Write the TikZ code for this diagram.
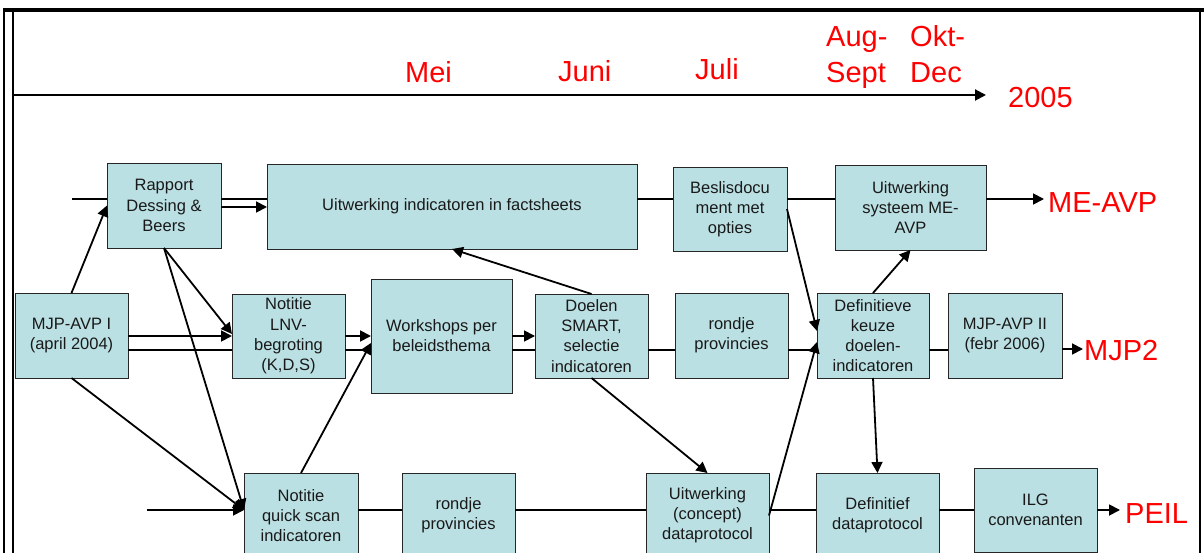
\documentclass[tikz,border=0pt]{standalone}
\usepackage{fontspec}
\setmainfont{Liberation Sans}
\usetikzlibrary{arrows.meta}
\definecolor{boxfill}{RGB}{187,224,227}
\definecolor{redlab}{RGB}{255,0,0}
\tikzset{
  box/.style={draw=black!85, line width=0.9pt, fill=boxfill, inner sep=0pt, outer sep=0pt,
    align=center, font=\fontsize{16.5}{20.2}\selectfont, text=black!90},
  conn/.style={line width=1.8pt, black},
  arr/.style={conn, -{Triangle[length=11pt,width=11pt]}},
  redtxt/.style={text=redlab, font=\fontsize{29}{33}\selectfont, inner sep=0pt, anchor=base west},
  frame/.style={line width=2pt, black}
}
\begin{document}
\begin{tikzpicture}[x=1pt,y=-1pt]
\useasboundingbox (0,0) rectangle (1204,553);
\clip (0,0) rectangle (1204,553);
% frame
\draw[line width=3.2pt] (3,10) -- (1204,10);
\draw[frame] (4,9) -- (4,560);
\draw[frame] (13,11) -- (13,560);
\draw[frame] (1200,10) -- (1200,560);
% timeline
\coordinate (tl0) at (13,95);
\coordinate (tl1) at (986,95);
\draw[arr, line width=2pt] (tl0) -- (tl1);
\node[redtxt] (mei) at (405,83) {Mei};
\node[redtxt] (juni) at (558,82) {Juni};
\node[redtxt] (juli) at (695,80) {Juli};
\node[redtxt] (aug) at (826,47) {Aug-};
\node[redtxt] (sept) at (826,83) {Sept};
\node[redtxt] (okt) at (910,47) {Okt-};
\node[redtxt] (dec) at (910,83) {Dec};
\node[redtxt] (yr) at (1008,108) {2005};
% helper rows
\coordinate (hA) at (0,199);
\coordinate (hA2) at (0,207);
\coordinate (hB) at (0,336);
\coordinate (hB2) at (0,350);
\coordinate (hC) at (0,510);
% boxes
\node[box, minimum width=114pt, minimum height=85pt] (rap) at (164,205.5) {Rapport\\Dessing \&\\Beers};
\node[box, minimum width=370pt, minimum height=85pt] (fact) at (452,206.5) {Uitwerking indicatoren in factsheets};
\node[box, minimum width=114pt, minimum height=84pt] (besl) at (730,209) {Beslisdocu\\ment met\\opties};
\node[box, minimum width=151pt, minimum height=85pt] (sys) at (910.5,207.5) {Uitwerking\\systeem ME-\\AVP};
\node[box, minimum width=113pt, minimum height=85pt] (mjp) at (71.5,335.5) {MJP-AVP I\\(april 2004)};
\node[box, minimum width=113pt, minimum height=84pt] (lnv) at (288.5,336) {Notitie\\LNV-\\begroting\\(K,D,S)};
\node[box, minimum width=141pt, minimum height=114pt] (ws) at (441.5,336) {Workshops per\\beleidsthema};
\node[box, minimum width=113pt, minimum height=84pt] (doel) at (591.5,336) {Doelen\\SMART,\\selectie\\indicatoren};
\node[box, minimum width=113pt, minimum height=85pt] (rond1) at (731.5,335.5) {rondje\\provincies};
\node[box, minimum width=112pt, minimum height=85pt] (defk) at (873,335.5) {Definitieve\\keuze\\doelen-\\indicatoren};
\node[box, minimum width=114pt, minimum height=85pt] (mjp2) at (1005,335.5) {MJP-AVP II\\(febr 2006)};
\node[box, minimum width=114pt, minimum height=85pt] (qs) at (301,515.5) {Notitie\\quick scan\\indicatoren};
\node[box, minimum width=113pt, minimum height=85pt] (rond2) at (458.5,515.5) {rondje\\provincies};
\node[box, minimum width=123pt, minimum height=85pt] (conc) at (707.5,515.5) {Uitwerking\\(concept)\\dataprotocol};
\node[box, minimum width=123pt, minimum height=85pt] (deff) at (877.5,515.5) {Definitief\\dataprotocol};
\node[box, minimum width=123pt, minimum height=84pt] (ilg) at (1035.5,510) {ILG\\convenanten};
% end labels
\node[redtxt] (meavp) at (1048,213) {ME-AVP};
\node[redtxt] (mjp2lab) at (1084,360) {MJP2};
\node[redtxt] (peil) at (1125,523) {PEIL};
\coordinate (topstart) at (72,199);
\coordinate (botstart) at (147,510);
\coordinate (meend) at (1044,199);
\coordinate (mjpend) at (1083,349);
\coordinate (peilend) at (1120,510);
% top row connectors
\draw[conn] (topstart) -- (rap.west |- hA);
\draw[conn] (rap.east |- hA) -- (fact.west |- hA);
\draw[arr] (rap.east |- hA2) -- (fact.west |- hA2);
\draw[conn] (fact.east |- hA) -- (besl.west |- hA);
\draw[conn] (besl.east |- hA) -- (sys.west |- hA);
\draw[arr] (sys.east |- hA) -- (meend);
% middle row connectors
\draw[arr] (mjp.east |- hB) -- (lnv.west |- hB);
\draw[conn] (mjp.east |- hB2) -- (lnv.west |- hB2);
\draw[arr] (lnv.east |- hB) -- (ws.west |- hB);
\draw[conn] (lnv.east |- hB2) -- (ws.west |- hB2);
\draw[arr] (ws.east |- hB) -- (doel.west |- hB);
\draw[conn] (ws.east |- hB2) -- (doel.west |- hB2);
\draw[conn] (doel.east |- hB2) -- (rond1.west |- hB2);
\draw[conn] (rond1.east |- hB2) -- (defk.west |- hB2);
\draw[conn] (defk.east |- hB2) -- (mjp2.west |- hB2);
\draw[arr] (mjp2.east |- mjpend) -- (mjpend);
% bottom row connectors
\draw[arr] (botstart) -- (qs.west |- hC);
\draw[conn] (qs.east |- hC) -- (rond2.west |- hC);
\draw[conn] (rond2.east |- hC) -- (conc.west |- hC);
\draw[conn] (conc.east |- hC) -- (deff.west |- hC);
\draw[conn] (deff.east |- hC) -- (ilg.west |- hC);
\draw[arr] (ilg.east |- hC) -- (peilend);
% diagonals
\draw[arr] (mjp.north) -- (rap.west);
\draw[arr] (rap.south) -- ([yshift=2pt]lnv.west);
\draw[arr] (rap.south) -- (qs.west |- hC);
\draw[arr] (mjp.south) -- (qs.west |- hC);
\draw[arr] (qs.north) -- ([yshift=-7pt]ws.west);
\draw[arr] (doel.north) -- (fact.south);
\draw[arr] (doel.south) -- (conc.north);
\draw[arr] (besl.east) -- ([yshift=4.5pt]defk.west);
\draw[arr] (conc.east) -- ([yshift=-6.5pt]defk.west);
\draw[arr] (defk.north) -- (sys.south);
\draw[arr] (defk.south) -- (deff.north);
\end{tikzpicture}
\end{document}
